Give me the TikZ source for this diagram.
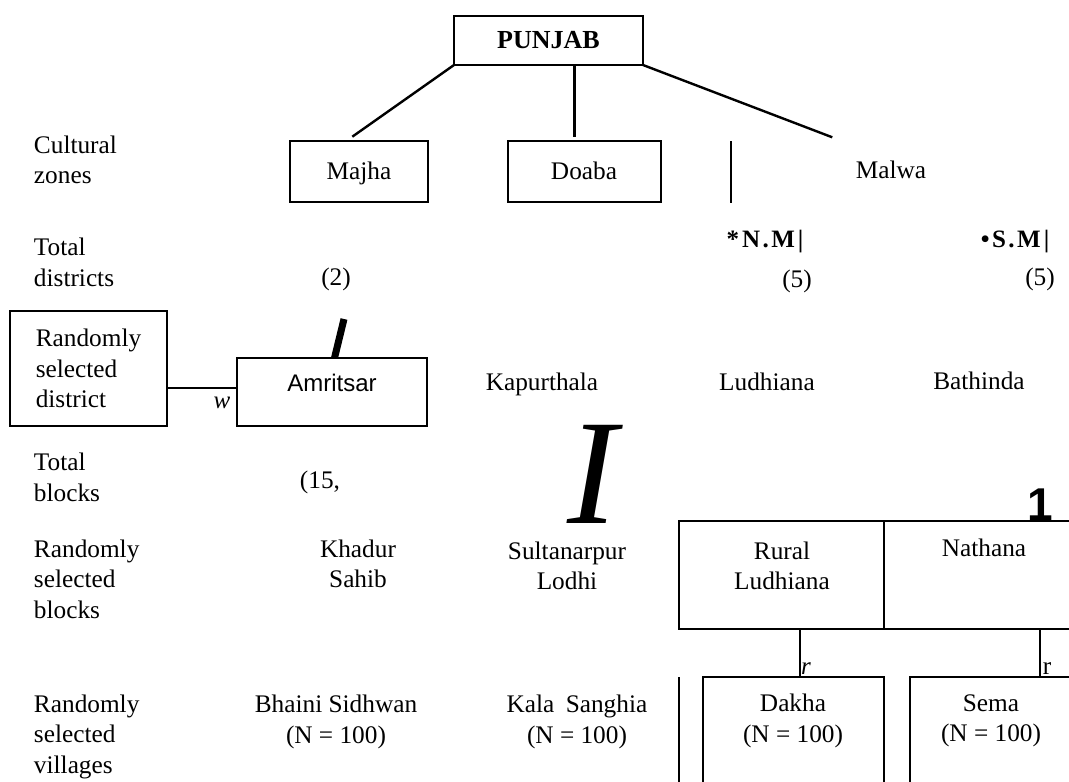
\documentclass[tikz,border=0pt]{standalone}
\usepackage{fontspec}
\setmainfont{Liberation Serif}
\newfontfamily\sansfont{Liberation Sans}
\begin{document}
\begin{tikzpicture}[x=1pt,y=-1pt,
  every node/.style={inner sep=0pt, outer sep=0pt, font=\fontsize{25.3}{30.5}\selectfont},
  rowlbl/.style={align=left, anchor=west},
  txt/.style={align=center},
  thinbox/.style={draw, line width=1.3pt},
  thickbox/.style={draw, line width=2pt},
  link/.style={line width=2.4pt},
  thinline/.style={line width=1.3pt}]
\useasboundingbox (0,0) rectangle (1069,782);

% row labels
\node[rowlbl] (l1) at (34,160) {Cultural\\zones};
\node[rowlbl] (l2) at (34,262.5) {Total\\districts};
\node[thinbox, align=left, minimum width=157pt, minimum height=115pt] (l3) at (88.5,368.5) {Randomly\\selected\\district};
\node[rowlbl] (l4) at (34,477.5) {Total\\blocks};
\node[rowlbl] (l5) at (34,579) {Randomly\\selected\\blocks};
\node[rowlbl] (l6) at (34,736.5) {Randomly\\selected\\villages};

% top level
\node[thickbox, minimum width=189pt, minimum height=49pt, font=\fontsize{26}{30}\selectfont\bfseries] (punjab) at (548.5,40.5) {PUNJAB};
\node[thinbox, minimum width=138pt, minimum height=61pt] (majha) at (359,171.5) {};
\node[thinbox, minimum width=153pt, minimum height=61pt] (doaba) at (584.5,171.5) {};
\node[anchor=base] (majhat) at (359,179) {Majha};
\node[anchor=base] (doabat) at (584,179) {Doaba};
\node[anchor=base] (malwa) at (891,178.5) {Malwa};
\coordinate (mtop) at (731,141);
\coordinate (mbot) at (731,203);
\draw[thinline] (mtop) -- (mbot);

\coordinate (majhaend) at (352.3,136.7);
\coordinate (doabaend) at (574.3,137);
\coordinate (malwaend) at (832.3,137.3);
\draw[link] (punjab.south west) -- (majhaend);
\draw[link] (punjab.south -| doabaend) -- (doabaend);
\draw[link] (punjab.south east) -- (malwaend);

% districts
\node[font=\fontsize{25}{30}\selectfont\bfseries] (nm) at (765,242) {*\kern3pt N\kern2.5pt.\kern2.5pt M\kern3pt|};
\node[font=\fontsize{25}{30}\selectfont\bfseries] (sm) at (1015,242) {•\kern2.5pt S\kern2.5pt.\kern2.5pt M\kern3pt|};
\node (nm5) at (797,281) {(5)};
\node (sm5) at (1040,279) {(5)};
\node (d2) at (336,279) {(2)};

\coordinate (s1) at (344,319);
\coordinate (s2) at (334.5,358);
\draw[line width=7pt] (s1) -- (s2);

\node[thinbox, minimum width=190pt, minimum height=68pt] (amrbox) at (332,392) {};
\node[anchor=base, font=\sansfont\fontsize{24}{28}\selectfont] (amr) at (332,391.5) {Amritsar};
\draw[thinline] ([yshift=-19.5pt]l3.east) -- ([yshift=4pt]amrbox.west);
\node[font=\fontsize{25}{30}\selectfont\itshape] (w) at (222,403) {w};

\node[anchor=base] (kap) at (542,390) {Kapurthala};
\node[anchor=base] (lud) at (767,390) {Ludhiana};
\node[anchor=base] (bat) at (979,389) {Bathinda};

% blocks
\node (b15) at (320,482) {(15,};
\node[font=\fontsize{150}{150}\selectfont\itshape] (bigI) at (592,474) {I};

\node[txt] (khadur) at (358,564) {Khadur\\Sahib};
\node[txt] (sultan) at (567,566) {Sultanarpur\\Lodhi};
\node[txt] (rural) at (782,566) {Rural\\Ludhiana};
\node[anchor=base] (nathana) at (984,556.5) {Nathana};

\coordinate (bb1) at (1075,521);
\coordinate (bb2) at (679,521);
\coordinate (bb3) at (679,629);
\coordinate (bb4) at (1075,629);
\draw[thinline] (bb1) -- (bb2) -- (bb3) -- (bb4);
\coordinate (dv1) at (884,521);
\coordinate (dv2) at (884,629);
\draw[thinline] (dv1) -- (dv2);
\node[font=\sansfont\bfseries\fontsize{46}{46}\selectfont] (one) at (1040,505) {1};

% connectors to villages
\coordinate (ra) at (800,629);
\coordinate (rb) at (800,677);
\coordinate (na) at (1040,629);
\coordinate (nb) at (1040,677);
\draw[thinline] (ra) -- (rb);
\draw[thinline] (na) -- (nb);
\node[font=\fontsize{25}{30}\selectfont\itshape] (r1) at (806,669) {r};
\node (r2) at (1047,669) {r};

% village boxes
\coordinate (dk1) at (703,790);
\coordinate (dk2) at (703,677);
\coordinate (dk3) at (884,677);
\coordinate (dk4) at (884,790);
\draw[thinline] (dk1) -- (dk2) -- (dk3) -- (dk4);
\coordinate (se1) at (910,790);
\coordinate (se2) at (910,677);
\coordinate (se3) at (1075,677);
\draw[thinline] (se1) -- (se2) -- (se3);
\coordinate (vl1) at (679,677);
\coordinate (vl2) at (679,790);
\draw[thinline] (vl1) -- (vl2);

% villages
\node[txt] (bhaini) at (336,722) {Bhaini Sidhwan\\(N = 100)};
\node[txt] (kala) at (577,722) {Kala\hspace{5pt} Sanghia\\(N = 100)};
\node[txt] (dakha) at (793,721) {Dakha\\(N = 100)};
\node[txt] (sema) at (991,721) {Sema\\(N = 100)};
\end{tikzpicture}
\end{document}
